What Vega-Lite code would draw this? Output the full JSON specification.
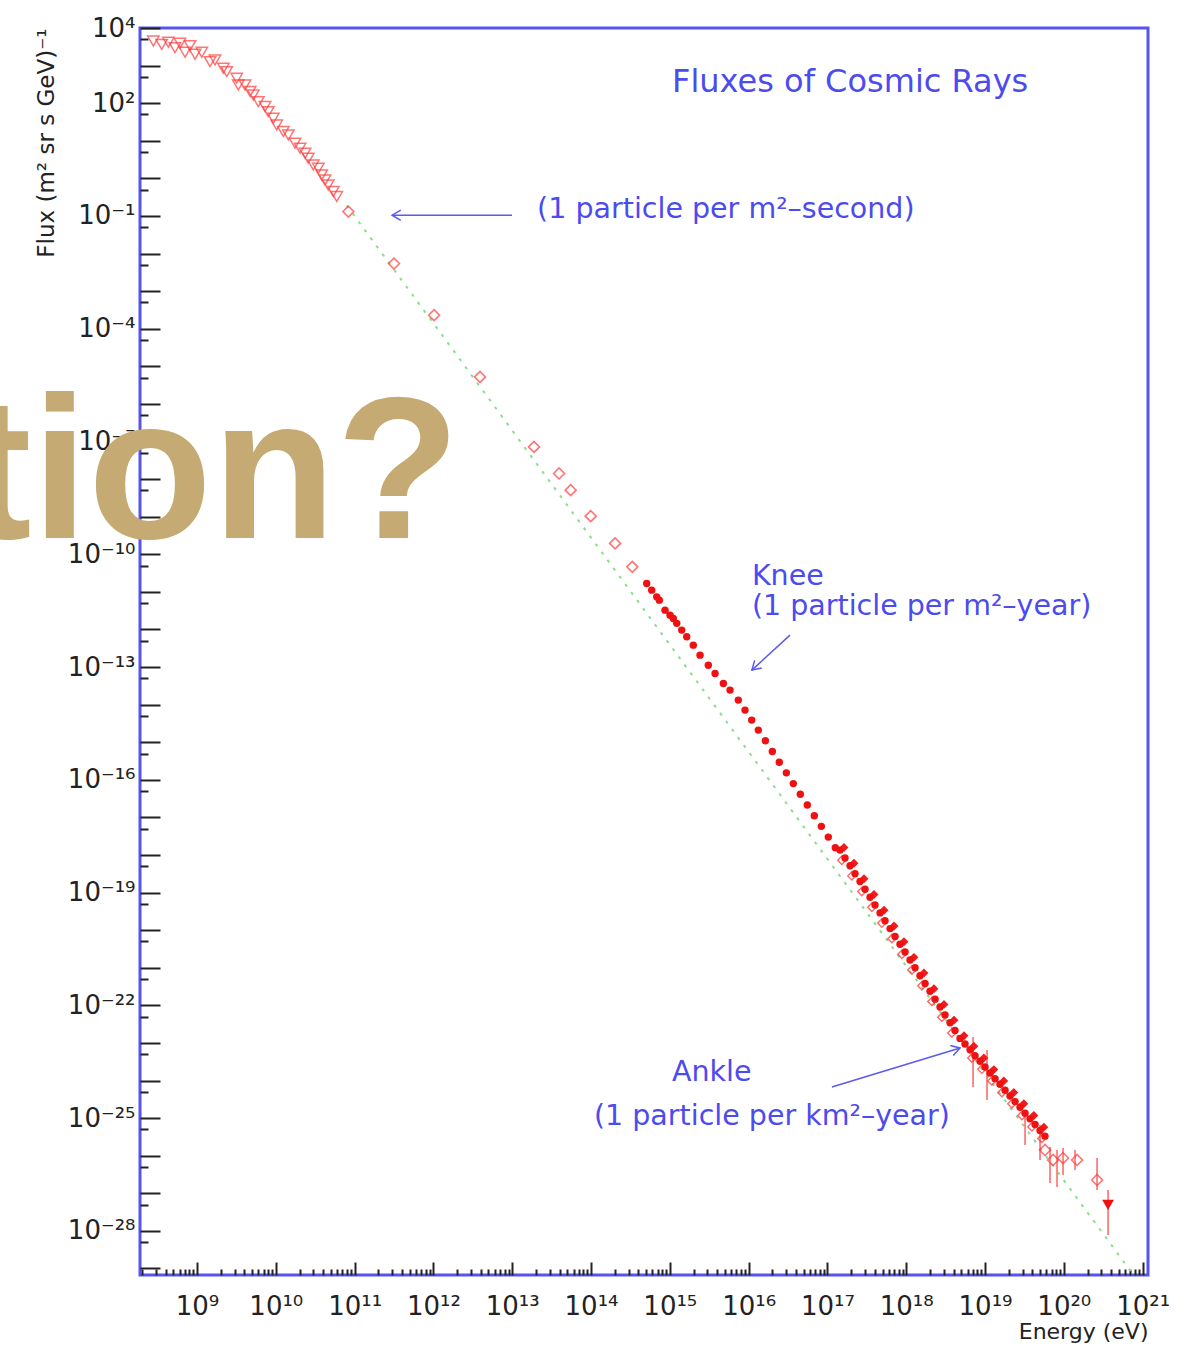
{
  "$schema": "https://vega.github.io/schema/vega-lite/v6.json",
  "width": 1008,
  "height": 1247,
  "autosize": "none",
  "padding": {"left": 140, "top": 28, "right": 39, "bottom": 71},
  "background": "white",
  "config": {
    "font": "DejaVu Sans",
    "view": {"stroke": "#5454f2", "strokeWidth": 3}
  },
  "datasets": {
    "flux": [
      {"set": "LEAP", "E": 2.79e8, "F": 4510},
      {"set": "LEAP", "E": 3.56e8, "F": 3680},
      {"set": "LEAP", "E": 4.33e8, "F": 4170},
      {"set": "LEAP", "E": 5.26e8, "F": 3010},
      {"set": "LEAP", "E": 6.08e8, "F": 3920},
      {"set": "LEAP", "E": 8.15e8, "F": 3400},
      {"set": "LEAP", "E": 7.05e8, "F": 2260},
      {"set": "LEAP", "E": 9.44e8, "F": 2000},
      {"set": "LEAP", "E": 1.148e9, "F": 2260},
      {"set": "LEAP", "E": 1.462e9, "F": 1276},
      {"set": "LEAP", "E": 1.69e9, "F": 1409},
      {"set": "LEAP", "E": 2.158e9, "F": 847},
      {"set": "LEAP", "E": 2.382e9, "F": 692},
      {"set": "LEAP", "E": 3.19e9, "F": 459},
      {"set": "LEAP", "E": 3.34e9, "F": 305},
      {"set": "LEAP", "E": 4.06e9, "F": 305},
      {"set": "LEAP", "E": 4.71e9, "F": 204},
      {"set": "LEAP", "E": 5.18e9, "F": 165},
      {"set": "LEAP", "E": 6.0e9, "F": 110},
      {"set": "LEAP", "E": 7.29e9, "F": 81.3},
      {"set": "LEAP", "E": 8.04e9, "F": 59.8},
      {"set": "LEAP", "E": 9.29e9, "F": 39.6},
      {"set": "LEAP", "E": 1.026e10, "F": 26.3},
      {"set": "LEAP", "E": 1.245e10, "F": 17.6},
      {"set": "LEAP", "E": 1.442e10, "F": 14.3},
      {"set": "LEAP", "E": 1.754e10, "F": 8.59},
      {"set": "LEAP", "E": 2.03e10, "F": 6.32},
      {"set": "LEAP", "E": 2.35e10, "F": 4.66},
      {"set": "LEAP", "E": 2.58e10, "F": 3.43},
      {"set": "LEAP", "E": 2.99e10, "F": 2.27},
      {"set": "LEAP", "E": 3.46e10, "F": 1.86},
      {"set": "LEAP", "E": 3.82e10, "F": 1.23},
      {"set": "LEAP", "E": 4.21e10, "F": 0.906},
      {"set": "LEAP", "E": 4.63e10, "F": 0.667},
      {"set": "LEAP", "E": 5.37e10, "F": 0.446},
      {"set": "LEAP", "E": 5.93e10, "F": 0.328},
      {"set": "Proton", "E": 8.32e10, "F": 0.131},
      {"set": "Proton", "E": 3.16e11, "F": 5.42e-3},
      {"set": "Proton", "E": 1.019e12, "F": 2.29e-4},
      {"set": "Proton", "E": 3.9e12, "F": 5.22e-6},
      {"set": "Proton", "E": 1.89e13, "F": 7.18e-8},
      {"set": "Proton", "E": 3.93e13, "F": 1.41e-8},
      {"set": "Proton", "E": 5.52e13, "F": 5.07e-9},
      {"set": "Proton", "E": 9.91e13, "F": 1.03e-9},
      {"set": "Proton", "E": 2.02e14, "F": 1.94e-10},
      {"set": "Proton", "E": 3.34e14, "F": 4.62e-11},
      {"set": "Akeno", "E": 5.09e14, "F": 1.67e-11},
      {"set": "Akeno", "E": 5.89e14, "F": 1.11e-11},
      {"set": "Akeno", "E": 6.82e14, "F": 7.36e-12},
      {"set": "Akeno", "E": 7.36e14, "F": 6.01e-12},
      {"set": "Akeno", "E": 8.69e14, "F": 3.26e-12},
      {"set": "Akeno", "E": 1.007e15, "F": 2.40e-12},
      {"set": "Akeno", "E": 1.107e15, "F": 1.96e-12},
      {"set": "Akeno", "E": 1.224e15, "F": 1.45e-12},
      {"set": "Akeno", "E": 1.416e15, "F": 9.59e-13},
      {"set": "Akeno", "E": 1.638e15, "F": 6.36e-13},
      {"set": "Akeno", "E": 1.986e15, "F": 3.82e-13},
      {"set": "Akeno", "E": 2.42e15, "F": 2.07e-13},
      {"set": "Akeno", "E": 3.08e15, "F": 1.12e-13},
      {"set": "Akeno", "E": 3.75e15, "F": 6.76e-14},
      {"set": "Akeno", "E": 4.78e15, "F": 3.66e-14},
      {"set": "Akeno", "E": 5.81e15, "F": 2.43e-14},
      {"set": "Akeno", "E": 7.40e15, "F": 1.32e-14},
      {"set": "Akeno", "E": 9.00e15, "F": 7.14e-15},
      {"set": "Akeno", "E": 1.094e16, "F": 3.87e-15},
      {"set": "Akeno", "E": 1.327e16, "F": 2.10e-15},
      {"set": "Akeno", "E": 1.63e16, "F": 1.09e-15},
      {"set": "Akeno", "E": 2.0e16, "F": 5.66e-16},
      {"set": "Akeno", "E": 2.45e16, "F": 2.94e-16},
      {"set": "Akeno", "E": 3.01e16, "F": 1.53e-16},
      {"set": "Akeno", "E": 3.69e16, "F": 7.92e-17},
      {"set": "Akeno", "E": 4.53e16, "F": 4.11e-17},
      {"set": "Akeno", "E": 5.56e16, "F": 2.14e-17},
      {"set": "Akeno", "E": 6.82e16, "F": 1.11e-17},
      {"set": "Akeno", "E": 8.37e16, "F": 5.77e-18},
      {"set": "Akeno", "E": 1.026e17, "F": 2.99e-18},
      {"set": "Akeno", "E": 1.259e17, "F": 1.55e-18},
      {"set": "Akeno", "E": 1.445e17, "F": 1.349e-18},
      {"set": "Akeno", "E": 1.671e17, "F": 8.34e-19},
      {"set": "Akeno", "E": 1.936e17, "F": 5.15e-19},
      {"set": "Akeno", "E": 2.239e17, "F": 3.19e-19},
      {"set": "Akeno", "E": 2.594e17, "F": 1.97e-19},
      {"set": "Akeno", "E": 3.0e17, "F": 1.22e-19},
      {"set": "Akeno", "E": 3.475e17, "F": 7.53e-20},
      {"set": "Akeno", "E": 4.018e17, "F": 4.66e-20},
      {"set": "Akeno", "E": 4.656e17, "F": 2.88e-20},
      {"set": "Akeno", "E": 5.383e17, "F": 1.78e-20},
      {"set": "Akeno", "E": 6.237e17, "F": 1.10e-20},
      {"set": "Akeno", "E": 7.211e17, "F": 6.81e-21},
      {"set": "Akeno", "E": 8.337e17, "F": 4.21e-21},
      {"set": "Akeno", "E": 9.66e17, "F": 2.61e-21},
      {"set": "Akeno", "E": 1.117e18, "F": 1.61e-21},
      {"set": "Akeno", "E": 1.294e18, "F": 9.95e-22},
      {"set": "Akeno", "E": 1.496e18, "F": 6.15e-22},
      {"set": "Akeno", "E": 1.734e18, "F": 3.80e-22},
      {"set": "Akeno", "E": 2.004e18, "F": 2.36e-22},
      {"set": "Akeno", "E": 2.323e18, "F": 1.46e-22},
      {"set": "Akeno", "E": 2.685e18, "F": 8.99e-23},
      {"set": "Akeno", "E": 3.105e18, "F": 5.56e-23},
      {"set": "Akeno", "E": 3.597e18, "F": 3.44e-23},
      {"set": "Akeno", "E": 4.159e18, "F": 2.13e-23},
      {"set": "Akeno", "E": 4.819e18, "F": 1.32e-23},
      {"set": "Akeno", "E": 5.57e18, "F": 9.33e-24},
      {"set": "Akeno", "E": 6.46e18, "F": 6.61e-24},
      {"set": "Akeno", "E": 7.46e18, "F": 4.57e-24},
      {"set": "Akeno", "E": 8.65e18, "F": 3.24e-24},
      {"set": "Akeno", "E": 1.0e19, "F": 2.29e-24},
      {"set": "Akeno", "E": 1.159e19, "F": 1.58e-24},
      {"set": "Akeno", "E": 1.34e19, "F": 1.12e-24},
      {"set": "Akeno", "E": 1.549e19, "F": 7.94e-25},
      {"set": "Akeno", "E": 1.795e19, "F": 5.50e-25},
      {"set": "Akeno", "E": 2.075e19, "F": 3.89e-25},
      {"set": "Akeno", "E": 2.404e19, "F": 2.75e-25},
      {"set": "Akeno", "E": 2.78e19, "F": 1.95e-25},
      {"set": "Akeno", "E": 3.221e19, "F": 1.35e-25},
      {"set": "Akeno", "E": 3.724e19, "F": 9.55e-26},
      {"set": "Akeno", "E": 4.315e19, "F": 6.76e-26},
      {"set": "Akeno", "E": 4.989e19, "F": 4.68e-26},
      {"set": "Akeno", "E": 5.768e19, "F": 3.31e-26},
      {"set": "Fly's Eye", "E": 1.622e17, "F": 1.585e-18},
      {"set": "Fly's Eye", "E": 2.173e17, "F": 6.05e-19},
      {"set": "Fly's Eye", "E": 2.911e17, "F": 2.32e-19},
      {"set": "Fly's Eye", "E": 3.899e17, "F": 8.85e-20},
      {"set": "Fly's Eye", "E": 5.224e17, "F": 3.39e-20},
      {"set": "Fly's Eye", "E": 7.0e17, "F": 1.29e-20},
      {"set": "Fly's Eye", "E": 9.354e17, "F": 4.94e-21},
      {"set": "Fly's Eye", "E": 1.253e18, "F": 1.89e-21},
      {"set": "Fly's Eye", "E": 1.679e18, "F": 7.23e-22},
      {"set": "Fly's Eye", "E": 2.249e18, "F": 2.77e-22},
      {"set": "Fly's Eye", "E": 3.013e18, "F": 1.06e-22},
      {"set": "Fly's Eye", "E": 4.036e18, "F": 4.04e-23},
      {"set": "Fly's Eye", "E": 5.408e18, "F": 1.55e-23},
      {"set": "Fly's Eye", "E": 7.21e18, "F": 8.13e-24},
      {"set": "Fly's Eye", "E": 9.66e18, "F": 3.98e-24},
      {"set": "Fly's Eye", "E": 1.294e19, "F": 1.95e-24},
      {"set": "Fly's Eye", "E": 1.73e19, "F": 9.77e-25},
      {"set": "Fly's Eye", "E": 2.317e19, "F": 4.79e-25},
      {"set": "Fly's Eye", "E": 3.105e19, "F": 2.40e-25},
      {"set": "Fly's Eye", "E": 4.159e19, "F": 1.17e-25},
      {"set": "Fly's Eye", "E": 5.572e19, "F": 5.75e-26},
      {"set": "Haverah Park", "E": 1.524e17, "F": 7.26e-19},
      {"set": "Haverah Park", "E": 2.042e17, "F": 2.78e-19},
      {"set": "Haverah Park", "E": 2.735e17, "F": 1.06e-19},
      {"set": "Haverah Park", "E": 3.664e17, "F": 4.06e-20},
      {"set": "Haverah Park", "E": 4.909e17, "F": 1.55e-20},
      {"set": "Haverah Park", "E": 6.577e17, "F": 5.93e-21},
      {"set": "Haverah Park", "E": 8.81e17, "F": 2.27e-21},
      {"set": "Haverah Park", "E": 1.18e18, "F": 8.67e-22},
      {"set": "Haverah Park", "E": 1.581e18, "F": 3.31e-22},
      {"set": "Haverah Park", "E": 2.118e18, "F": 1.27e-22},
      {"set": "Haverah Park", "E": 2.831e18, "F": 4.84e-23},
      {"set": "Haverah Park", "E": 3.793e18, "F": 1.85e-23},
      {"set": "Haverah Park", "E": 6.81e18, "F": 3.98e-24},
      {"set": "Haverah Park", "E": 9.12e18, "F": 2.0e-24},
      {"set": "Haverah Park", "E": 1.222e19, "F": 9.77e-25},
      {"set": "Haverah Park", "E": 1.637e19, "F": 4.79e-25},
      {"set": "Haverah Park", "E": 2.193e19, "F": 2.40e-25},
      {"set": "Haverah Park", "E": 2.938e19, "F": 1.17e-25},
      {"set": "Haverah Park", "E": 3.936e19, "F": 5.89e-26},
      {"set": "Haverah Park", "E": 5.26e19, "F": 2.88e-26},
      {"set": "Yakutsk", "E": 5.77e19, "F": 1.42e-26},
      {"set": "Yakutsk", "E": 7.29e19, "F": 7.69e-27},
      {"set": "Yakutsk", "E": 9.77e19, "F": 8.67e-27},
      {"set": "Yakutsk", "E": 1.472e20, "F": 7.69e-27},
      {"set": "Yakutsk", "E": 2.64e20, "F": 2.26e-27},
      {"set": "AGASA", "E": 3.64e20, "F": 4.89e-28}
    ],
    "errors": [
      {"E": 7.05e18, "F": 6.71e-25, "F2": 1.44e-23},
      {"E": 1.06e19, "F": 3.03e-25, "F2": 6.47e-24},
      {"E": 3.22e19, "F": 1.92e-26, "F2": 1.64e-25},
      {"E": 4.99e19, "F": 7.69e-27, "F2": 6.55e-26},
      {"E": 6.68e19, "F": 1.88e-27, "F2": 1.70e-26},
      {"E": 8.2e19, "F": 1.47e-27, "F2": 1.42e-26},
      {"E": 9.77e19, "F": 3.07e-27, "F2": 1.60e-26},
      {"E": 1.387e20, "F": 4.17e-27, "F2": 1.42e-26},
      {"E": 2.64e20, "F": 1.22e-27, "F2": 8.69e-27},
      {"E": 3.64e20, "F": 7.78e-29, "F2": 1.22e-27}
    ],
    "powerlaw": [
      {"E": 7.94e10, "F": 0.19},
      {"E": 7.08e20, "F": 8.36e-30}
    ],
    "arrows": [
      {"id": "second", "E": 2.99e11, "F": 0.1045, "E2": 9.93e12, "F2": 0.1045},
      {"id": "knee", "E": 1.10e16, "F": 8.28e-14, "E2": 3.35e16, "F2": 7.05e-13},
      {"id": "ankle", "E": 4.82e18, "F": 7.31e-24, "E2": 1.14e17, "F2": 6.71e-25}
    ],
    "notes": [
      {"E": 2.07e13, "F": 0.151, "label": "(1 particle per m²–second)"},
      {"E": 1.10e16, "F": 2.61e-11, "label": "Knee"},
      {"E": 1.10e16, "F": 4.16e-12, "label": "(1 particle per m²–year)"},
      {"E": 1.067e15, "F": 1.68e-24, "label": "Ankle"},
      {"E": 1.09e14, "F": 1.14e-25, "label": "(1 particle per km²–year)"}
    ]
  },
  "encoding": {
    "x": {
      "field": "E",
      "type": "quantitative",
      "scale": {"type": "log", "domain": [1.89e8, 1.17e21], "nice": false},
      "axis": {
        "title": "Energy (eV)",
        "titleAnchor": "end",
        "titleFontSize": 22,
        "titleFontWeight": "normal",
        "titleColor": "#222222",
        "titlePadding": -5,
        "domain": false,
        "grid": false,
        "values": [2e8, 3e8, 4e8, 5e8, 6e8, 7e8, 8e8, 9e8,
          1e9, 2e9, 3e9, 4e9, 5e9, 6e9, 7e9, 8e9, 9e9,
          1e10, 2e10, 3e10, 4e10, 5e10, 6e10, 7e10, 8e10, 9e10,
          1e11, 2e11, 3e11, 4e11, 5e11, 6e11, 7e11, 8e11, 9e11,
          1e12, 2e12, 3e12, 4e12, 5e12, 6e12, 7e12, 8e12, 9e12,
          1e13, 2e13, 3e13, 4e13, 5e13, 6e13, 7e13, 8e13, 9e13,
          1e14, 2e14, 3e14, 4e14, 5e14, 6e14, 7e14, 8e14, 9e14,
          1e15, 2e15, 3e15, 4e15, 5e15, 6e15, 7e15, 8e15, 9e15,
          1e16, 2e16, 3e16, 4e16, 5e16, 6e16, 7e16, 8e16, 9e16,
          1e17, 2e17, 3e17, 4e17, 5e17, 6e17, 7e17, 8e17, 9e17,
          1e18, 2e18, 3e18, 4e18, 5e18, 6e18, 7e18, 8e18, 9e18,
          1e19, 2e19, 3e19, 4e19, 5e19, 6e19, 7e19, 8e19, 9e19,
          1e20, 2e20, 3e20, 4e20, 5e20, 6e20, 7e20, 8e20, 9e20,
          1e21],
        "labelExpr": "abs(log(datum.value)/LN10 - round(log(datum.value)/LN10)) < 0.01 ? '10' + (round(log(datum.value)/LN10) >= 10 ? substring('⁰¹²³⁴⁵⁶⁷⁸⁹', floor(round(log(datum.value)/LN10) / 10), floor(round(log(datum.value)/LN10) / 10) + 1) : '') + substring('⁰¹²³⁴⁵⁶⁷⁸⁹', round(log(datum.value)/LN10) % 10, round(log(datum.value)/LN10) % 10 + 1) : ''",
        "labelFontSize": 26,
        "labelColor": "#222222",
        "labelPadding": 31,
        "labelOverlap": false,
        "labelFlush": false,
        "labelBound": false,
        "tickColor": "#222222",
        "tickWidth": 2,
        "tickSize": {"condition": {"test": "abs(log(datum.value)/LN10 - round(log(datum.value)/LN10)) < 0.01", "value": -13}, "value": -6}
      }
    },
    "y": {
      "field": "F",
      "type": "quantitative",
      "scale": {"type": "log", "domain": [6.7e-30, 1e4], "nice": false},
      "axis": {
        "title": "Flux (m² sr s GeV)⁻¹",
        "titleAnchor": "end",
        "titleFontSize": 23,
        "titleFontWeight": "normal",
        "titleColor": "#222222",
        "titlePadding": 9,
        "domain": false,
        "grid": false,
        "values": [1e4, 5e3, 1e3, 5e2, 1e2, 5e1, 1e1, 5, 1, 0.5, 0.1, 5e-2, 1e-2, 5e-3, 1e-3, 5e-4, 1e-4, 5e-5, 1e-5, 5e-6, 1e-6, 5e-7, 1e-7, 5e-8, 1e-8, 5e-9, 1e-9, 5e-10, 1e-10, 5e-11, 1e-11, 5e-12, 1e-12, 5e-13, 1e-13, 5e-14, 1e-14, 5e-15, 1e-15, 5e-16, 1e-16, 5e-17, 1e-17, 5e-18, 1e-18, 5e-19, 1e-19, 5e-20, 1e-20, 5e-21, 1e-21, 5e-22, 1e-22, 5e-23, 1e-23, 5e-24, 1e-24, 5e-25, 1e-25, 5e-26, 1e-26, 5e-27, 1e-27, 5e-28, 1e-28, 5e-29, 1e-29],
        "labelExpr": "abs(log(datum.value)/LN10 - round(log(datum.value)/LN10)) < 0.01 && (round(log(datum.value)/LN10) == 4 || (2 - round(log(datum.value)/LN10)) % 3 == 0) ? '10' + (round(log(datum.value)/LN10) < 0 ? '⁻' : '') + (abs(round(log(datum.value)/LN10)) >= 10 ? substring('⁰¹²³⁴⁵⁶⁷⁸⁹', floor(abs(round(log(datum.value)/LN10)) / 10), floor(abs(round(log(datum.value)/LN10)) / 10) + 1) : '') + substring('⁰¹²³⁴⁵⁶⁷⁸⁹', abs(round(log(datum.value)/LN10)) % 10, abs(round(log(datum.value)/LN10)) % 10 + 1) : ''",
        "labelFontSize": 26,
        "labelColor": "#222222",
        "labelPadding": 25,
        "labelOverlap": false,
        "labelFlush": false,
        "labelBound": false,
        "tickColor": "#222222",
        "tickWidth": 2,
        "tickSize": {"condition": {"test": "abs(log(datum.value)/LN10 - round(log(datum.value)/LN10)) < 0.01", "value": -20}, "value": -8}
      }
    }
  },
  "layer": [
    {
      "data": {"name": "powerlaw"},
      "mark": {"type": "line", "color": "#8ade8a", "strokeWidth": 2, "strokeDash": [3, 7]},
      "encoding": {}
    },
    {
      "data": {"name": "errors"},
      "mark": {"type": "rule", "color": "#ff4a4a", "strokeWidth": 1.3},
      "encoding": {"y2": {"field": "F2"}}
    },
    {
      "data": {"name": "flux"},
      "transform": [{"filter": {"field": "set", "equal": "LEAP"}}],
      "mark": {"type": "point", "shape": "triangle-down", "filled": false, "color": "#ff3a3a", "size": 130, "strokeWidth": 1.5}
    },
    {
      "data": {"name": "flux"},
      "transform": [{"filter": {"field": "set", "oneOf": ["Proton", "Yakutsk"]}}],
      "mark": {"type": "point", "shape": "diamond", "filled": false, "color": "#ff3a3a", "size": 120, "strokeWidth": 1.6}
    },
    {
      "data": {"name": "flux"},
      "transform": [{"filter": {"field": "set", "equal": "Haverah Park"}}],
      "mark": {"type": "point", "shape": "diamond", "filled": false, "color": "#ff2a2a", "size": 70, "strokeWidth": 1.4}
    },
    {
      "data": {"name": "flux"},
      "transform": [{"filter": {"field": "set", "equal": "Fly's Eye"}}],
      "mark": {"type": "point", "shape": "diamond", "filled": true, "color": "#f21a1a", "size": 80, "opacity": 1}
    },
    {
      "data": {"name": "flux"},
      "transform": [{"filter": {"field": "set", "equal": "Akeno"}}],
      "mark": {"type": "point", "shape": "circle", "filled": true, "color": "#ee1111", "size": 55, "opacity": 1}
    },
    {
      "data": {"name": "flux"},
      "transform": [{"filter": {"field": "set", "equal": "AGASA"}}],
      "mark": {"type": "point", "shape": "triangle-down", "filled": true, "color": "#ee1111", "size": 140, "opacity": 1}
    },
    {
      "data": {"name": "arrows"},
      "mark": {"type": "rule", "color": "#5a5af2", "strokeWidth": 1.5},
      "encoding": {"x2": {"field": "E2"}, "y2": {"field": "F2"}}
    },
    {
      "data": {"name": "arrows"},
      "transform": [{"filter": {"field": "id", "equal": "second"}}],
      "mark": {"type": "point", "shape": "M-1,-0.6L0,0L-1,0.6", "filled": false, "color": "#5a5af2", "size": 300, "strokeWidth": 1.5, "angle": 180, "opacity": 1}
    },
    {
      "data": {"name": "arrows"},
      "transform": [{"filter": {"field": "id", "equal": "knee"}}],
      "mark": {"type": "point", "shape": "M-1,-0.6L0,0L-1,0.6", "filled": false, "color": "#5a5af2", "size": 300, "strokeWidth": 1.5, "angle": 137, "opacity": 1}
    },
    {
      "data": {"name": "arrows"},
      "transform": [{"filter": {"field": "id", "equal": "ankle"}}],
      "mark": {"type": "point", "shape": "M-1,-0.6L0,0L-1,0.6", "filled": false, "color": "#5a5af2", "size": 300, "strokeWidth": 1.5, "angle": 343, "opacity": 1}
    },
    {
      "data": {"name": "notes"},
      "mark": {"type": "text", "align": "left", "baseline": "middle", "fontSize": 28.5, "color": "#4b4bee"},
      "encoding": {"text": {"field": "label"}}
    },
    {
      "data": {"values": [{"E": 1.067e15, "F": 360, "label": "Fluxes of Cosmic Rays"}]},
      "mark": {"type": "text", "align": "left", "baseline": "middle", "fontSize": 32, "color": "#4b4bee"},
      "encoding": {"text": {"field": "label"}}
    },
    {
      "data": {"values": [{"E": 2.18e12, "F": 2.68e-10, "label": "tion?"}]},
      "mark": {"type": "text", "align": "right", "baseline": "alphabetic", "font": "Liberation Sans", "fontWeight": "bold", "fontSize": 203, "color": "#c5aa74"},
      "encoding": {"text": {"field": "label"}}
    }
  ]
}
